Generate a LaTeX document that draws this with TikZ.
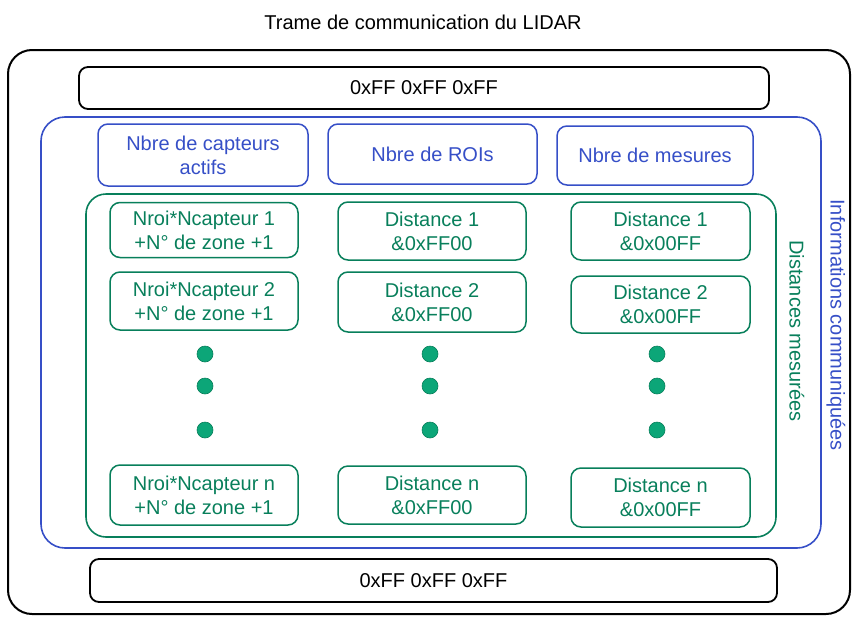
\documentclass[tikz,border=0pt]{standalone}
\usepackage{fontspec}
\setmainfont{Liberation Sans}
\definecolor{sblue}{RGB}{54,79,199}
\definecolor{sgreen}{RGB}{8,127,91}
\definecolor{sdot}{RGB}{12,166,120}
\tikzset{
  txt/.style={font=\fontsize{20}{24}\selectfont, align=center, inner sep=0pt},
  blackbox/.style={txt, draw=black, line width=1.8pt, rounded corners=9pt},
  bluebox/.style={txt, draw=sblue, text=sblue, line width=1.5pt, rounded corners=10pt},
  greenbox/.style={txt, draw=sgreen, text=sgreen, line width=1.5pt, rounded corners=10pt},
  frame/.style={draw, rounded corners=24pt, inner sep=0pt},
  dotmark/.style={circle, fill=sdot, draw=sgreen, line width=0.6pt, minimum size=16pt, inner sep=0pt},
}
\begin{document}
\begin{tikzpicture}[x=1pt,y=-1pt]
\useasboundingbox (0,0) rectangle (858,624);
% containers
\node[frame, draw=black, line width=2pt, minimum width=842, minimum height=564] (outer) at (429,332) {};
\node[frame, draw=sblue, line width=1.6pt, minimum width=780, minimum height=431] (info) at (431,332.5) {};
\node[frame, draw=sgreen, line width=1.6pt, rounded corners=20pt, minimum width=690, minimum height=343] (dist) at (431,365.5) {};
% title
\node[txt] (title) at (423,22) {Trame de communication du LIDAR};
% header / footer
\node[blackbox, minimum width=690, minimum height=42] (top) at (424,88) {0xFF 0xFF 0xFF};
\node[blackbox, minimum width=687, minimum height=43] (bottom) at (433.5,580.5) {0xFF 0xFF 0xFF};
% blue items
\node[bluebox, minimum width=210, minimum height=62] (capt) at (203,155) {Nbre de capteurs\\actifs};
\node[bluebox, minimum width=209, minimum height=60] (rois) at (432.5,154) {Nbre de ROIs};
\node[bluebox, minimum width=196, minimum height=59] (mes) at (655,155.5) {Nbre de mesures};
% green cells
\node[greenbox, minimum width=188, minimum height=55] (z1) at (204,230) {Nroi*Ncapteur 1\\+N° de zone +1};
\node[greenbox, minimum width=188, minimum height=58] (z2) at (204,301) {Nroi*Ncapteur 2\\+N° de zone +1};
\node[greenbox, minimum width=188, minimum height=60] (zn) at (204,495) {Nroi*Ncapteur n\\+N° de zone +1};
\node[greenbox, minimum width=188, minimum height=58] (h1) at (432,231) {Distance 1\\\&0xFF00};
\node[greenbox, minimum width=188, minimum height=60] (h2) at (432,302) {Distance 2\\\&0xFF00};
\node[greenbox, minimum width=188, minimum height=58] (hn) at (432,495) {Distance n\\\&0xFF00};
\node[greenbox, minimum width=179, minimum height=58] (l1) at (660.5,231) {Distance 1\\\&0x00FF};
\node[greenbox, minimum width=179, minimum height=57] (l2) at (660.5,304.5) {Distance 2\\\&0x00FF};
\node[greenbox, minimum width=179, minimum height=59] (ln) at (660.5,497.5) {Distance n\\\&0x00FF};
% dots
\foreach \cx/\nm in {205/a,430/b,657/c}{
  \node[dotmark] (d1\nm) at (\cx,354) {};
  \node[dotmark] (d2\nm) at (\cx,386) {};
  \node[dotmark] (d3\nm) at (\cx,430) {};
}
% vertical labels
\node[txt, text=sgreen, rotate=-90] (ldist) at (797,331) {Distances mesurées};
\node[txt, text=sblue, rotate=-90] (linfo) at (836,325) {Informations communiquées};
\end{tikzpicture}
\end{document}
